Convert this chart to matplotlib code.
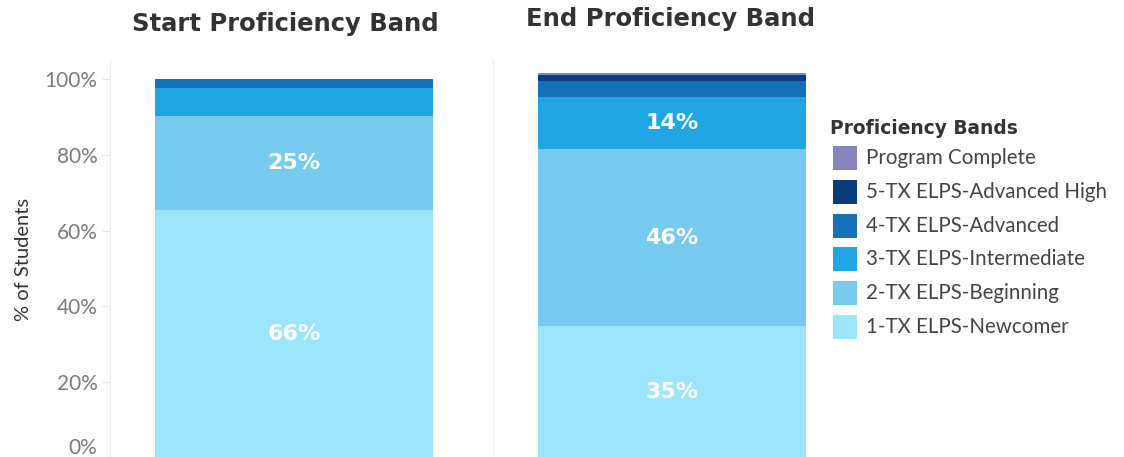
import matplotlib
matplotlib.use("Agg")
import matplotlib.pyplot as plt
from matplotlib.patches import Rectangle
from matplotlib.ticker import FuncFormatter

# ---- data ----
bands = ["1-TX ELPS-Newcomer", "2-TX ELPS-Beginning", "3-TX ELPS-Intermediate",
         "4-TX ELPS-Advanced", "5-TX ELPS-Advanced High", "Program Complete"]
colors = ["#9ce5fb", "#76c9ef", "#22a5e5", "#1572b6", "#0a3c7d", "#8585c0"]
start_vals = [65.5, 24.8, 7.4, 2.3, 0.0, 0.0]
end_vals = [34.8, 46.7, 13.8, 4.2, 1.6, 0.5]
start_labels = ["66%", "25%", "", "", "", ""]
end_labels = ["35%", "46%", "14%", "", "", ""]
panel_titles = ["Start Proficiency Band", "End Proficiency Band"]
yticks = [0, 20, 40, 60, 80, 100]

W, H = 1124, 457
fig = plt.figure(figsize=(W / 100, H / 100), dpi=100)
plt.rcParams['font.family'] = ['Lato', 'DejaVu Sans']
BOLD = ['DejaVu Sans']

def px(x0, y0, x1, y1):
    return [x0 / W, 1 - y1 / H, (x1 - x0) / W, (y1 - y0) / H]

ax1 = fig.add_axes(px(110, 60, 493, 458))
ax2 = fig.add_axes(px(493, 60, 876, 458))

def draw(ax, vals, labels, xlim, width):
    bottom = 0
    for v, c, lab in zip(vals, colors, labels):
        ax.bar([0], [v], bottom=bottom, color=c, width=width, linewidth=0)
        if lab:
            ax.text(0, bottom + v / 2, lab, ha="center", va="center",
                    color="white", fontsize=16, fontweight="bold", family=BOLD)
        bottom += v
    ax.set_xlim(*xlim)
    ax.set_ylim(0, 105)
    ax.set_xticks([])
    for s in ["top", "right", "bottom"]:
        ax.spines[s].set_visible(False)
    ax.spines["left"].set_color("#eeeeee")

# start bar: x 155-433 within panel 110-493
draw(ax1, start_vals, start_labels, (-(294 - 110) / 278, (493 - 294) / 278), 1.0)
# end bar: x 538-806 within panel 493-876
draw(ax2, end_vals, end_labels, (-(672 - 493) / 268, (876 - 672) / 268), 1.0)

ax1.set_yticks(yticks)
ax1.yaxis.set_major_formatter(FuncFormatter(lambda v, p: f"{int(v)}%"))
ax1.tick_params(axis="y", colors="#e6e6e6", labelcolor="#7a7a7a", labelsize=15,
                length=6, pad=3)
for lab in ax1.get_yticklabels():
    if lab.get_text() == "0%":
        lab.set_verticalalignment("bottom")
ax1.set_ylabel("% of Students", fontsize=14.5, color="#333333", labelpad=9)
ax2.set_yticks([])
ax2.spines["left"].set_color("#f0f0f0")

# titles
fig.text(285 / W, 1 - 24 / H, panel_titles[0], ha="center", va="center",
         fontsize=17.5, fontweight="bold", color="#333333", family=BOLD)
fig.text(671 / W, 1 - 19 / H, panel_titles[1], ha="center", va="center",
         fontsize=17.5, fontweight="bold", color="#333333", family=BOLD)

# legend
fig.text(830 / W, 1 - 128 / H, "Proficiency Bands", ha="left", va="center",
         fontsize=13.4, fontweight="bold", color="#333333", family=BOLD)
order = list(range(len(bands)))[::-1]
for i, k in enumerate(order):
    yc = 158 + i * 33.8
    fig.add_artist(Rectangle(((833) / W, 1 - (yc + 12) / H), 24 / W, 24 / H,
                             transform=fig.transFigure, color=colors[k], lw=0))
    fig.text(866 / W, 1 - yc / H, bands[k], ha="left", va="center",
             fontsize=14.8, color="#444444")

fig.savefig("out.png", dpi=100)
